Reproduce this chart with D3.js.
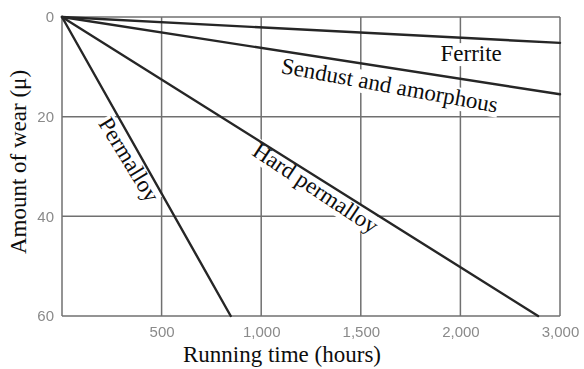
<!DOCTYPE html>
<html>
<head>
<meta charset="utf-8">
<script src="https://cdn.jsdelivr.net/npm/d3@7"></script>
<style>
  html, body { margin: 0; padding: 0; background: #fff; }
  svg { display: block; }
</style>
</head>
<body>
<svg id="chart" width="584" height="369"></svg>
<script>
// Wear of head materials against running time
const materials = ["Ferrite", "Sendust and amorphous", "Hard permalloy", "Permalloy"];
// end point of each straight wear line (all start at 0 h, 0 µ)
const endHours = [2500, 2500, 2390, 847];
const endWear  = [5.2, 15.5, 60, 60];

const xTickValues = [500, 1000, 1500, 2000, 2500];
const xTickLabels = ["500", "1,000", "1,500", "2,000", "3,000"];
const yTickValues = [0, 20, 40, 60];
const yTickLabels = ["0", "20", "40", "60"];

// label anchors in data units (hours, µ) and rotation in degrees
const labelHours = [1900, 1638, 1252, 304];
const labelWear  = [8.85, 15.2, 35.6, 29.4];
const labelAngle = [0, 10.4, 33.5, 58.5];
const labelAnchor = ["start", "middle", "middle", "middle"];

const svg = d3.select("#chart");

const x = d3.scaleLinear().domain([0, 2500]).range([62, 560]);
const y = d3.scaleLinear().domain([0, 60]).range([17, 316]);

const defs = svg.append("defs");
defs.append("filter").attr("id", "soft")
  .append("feGaussianBlur").attr("stdDeviation", 0.55);

const gridColor = "#707070";
const serif = "Liberation Serif, Times New Roman, serif";
const fontSize = 23;

// grid
const grid = svg.append("g");
grid.selectAll("line.v").data([0, ...xTickValues]).join("line")
  .attr("x1", d => x(d)).attr("x2", d => x(d))
  .attr("y1", y(0)).attr("y2", y(60))
  .attr("stroke", gridColor).attr("stroke-width", 1.5);
grid.selectAll("line.h").data(yTickValues).join("line")
  .attr("y1", d => y(d)).attr("y2", d => y(d))
  .attr("x1", x(0)).attr("x2", x(2500))
  .attr("stroke", gridColor).attr("stroke-width", 1.5);

// axes tick labels
const xAxis = d3.axisBottom(x).tickValues(xTickValues)
  .tickFormat((d, i) => xTickLabels[i]).tickSize(0).tickPadding(10);
const gx = svg.append("g").attr("transform", `translate(0,${y(60)})`).call(xAxis);
gx.select(".domain").remove();
gx.selectAll("text").attr("font-family", "Liberation Sans, Arial, sans-serif")
  .attr("font-size", 15).attr("fill", "#8a8a8a").attr("filter", "url(#soft)");

const yAxis = d3.axisLeft(y).tickValues(yTickValues)
  .tickFormat((d, i) => yTickLabels[i]).tickSize(0).tickPadding(8);
const gy = svg.append("g").attr("transform", `translate(${x(0)},0)`).call(yAxis);
gy.select(".domain").remove();
gy.selectAll("text").attr("font-family", "Liberation Sans, Arial, sans-serif")
  .attr("font-size", 15).attr("fill", "#8a8a8a").attr("filter", "url(#soft)");

// material labels: white backing sits under the lines, text on top
const labelPos = (m, i) => `translate(${x(labelHours[i])},${y(labelWear[i])}) rotate(${labelAngle[i]})`;
const backs = svg.append("g");
const lineLayer = svg.append("g");
const texts = svg.append("g").selectAll("text").data(materials).join("text")
  .attr("transform", labelPos)
  .attr("text-anchor", (m, i) => labelAnchor[i])
  .attr("font-family", serif).attr("font-size", fontSize).attr("fill", "#0d0d0d")
  .text(m => m);
texts.each(function (m, i) {
  const b = this.getBBox();
  backs.append("rect")
    .attr("transform", labelPos(m, i))
    .attr("x", b.x - 1).attr("y", b.y + 2)
    .attr("width", b.width + 2).attr("height", b.height - 2)
    .attr("fill", "#fff");
});

// wear lines
const line = d3.line().x(d => x(d[0])).y(d => y(d[1]));
lineLayer.selectAll("path").data(materials).join("path")
  .attr("d", (m, i) => line([[0, 0], [endHours[i], endWear[i]]]))
  .attr("fill", "none").attr("stroke", "#262626").attr("stroke-width", 2.4)
  .attr("stroke-linecap", "round");

// axis titles
svg.append("text")
  .attr("transform", `translate(26,162) rotate(-90)`)
  .attr("text-anchor", "middle")
  .attr("font-family", serif).attr("font-size", fontSize).attr("fill", "#0d0d0d")
  .text("Amount of wear (\u03bc)");
svg.append("text")
  .attr("x", 282).attr("y", 362)
  .attr("text-anchor", "middle")
  .attr("font-family", serif).attr("font-size", fontSize).attr("fill", "#0d0d0d")
  .text("Running time (hours)");
</script>
</body>
</html>
